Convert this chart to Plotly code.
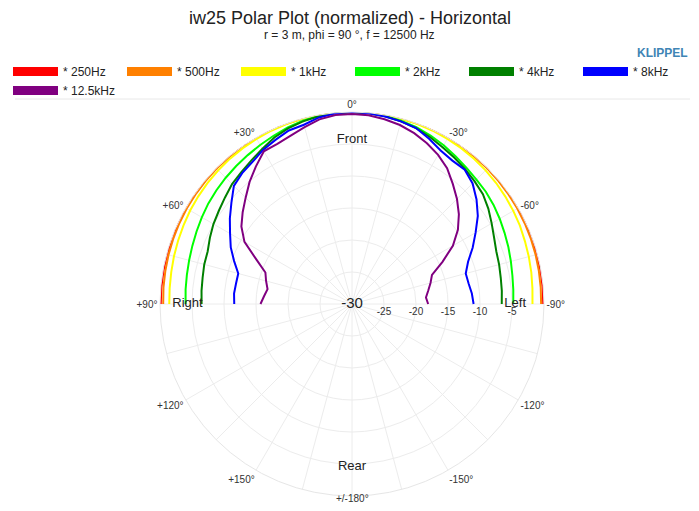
import plotly.graph_objects as go

# ---------------- data ----------------
ANGLES = [-90, -85, -80, -75, -70, -65, -60, -55, -50, -45, -40, -35, -30, -25, -20, -15, -10, -5,
          0, 5, 10, 15, 20, 25, 30, 35, 40, 45, 50, 55, 60, 65, 70, 75, 80, 85, 90]

SERIES_NAMES = ["* 250Hz", "* 500Hz", "* 1kHz", "* 2kHz", "* 4kHz", "* 8kHz", "* 12.5kHz"]
SERIES_COLORS = ["#ff0000", "#ff8000", "#ffff00", "#00ff00", "#008000", "#0000ff", "#800080"]

SPL_250 = [-0.12, -0.1, -0.09, -0.08, -0.06, -0.05, -0.04, -0.03, -0.02, -0.02, -0.01, -0.01, 0, 0, 0, 0, 0, 0,
           0, 0, 0, 0, 0, 0, 0, -0.01, -0.01, -0.02, -0.02, -0.03, -0.04, -0.05, -0.06, -0.08, -0.09, -0.1, -0.12]
SPL_500 = [-0.45, -0.4, -0.35, -0.3, -0.25, -0.21, -0.18, -0.15, -0.12, -0.09, -0.07, -0.05, -0.04, -0.03, -0.02, -0.01, 0, 0,
           0, 0, 0, -0.01, -0.02, -0.03, -0.04, -0.05, -0.07, -0.09, -0.12, -0.15, -0.18, -0.22, -0.27, -0.32, -0.38, -0.43, -0.5]
SPL_1k = [-1.8, -1.7, -1.55, -1.4, -1.25, -1.05, -0.9, -0.75, -0.6, -0.48, -0.36, -0.27, -0.2, -0.13, -0.08, -0.04, -0.02, 0,
          0, 0, -0.02, -0.04, -0.08, -0.13, -0.2, -0.27, -0.35, -0.45, -0.55, -0.68, -0.8, -0.95, -1.08, -1.2, -1.32, -1.4, -1.45]
SPL_2k = [-4.8, -4.7, -4.55, -4.3, -4.0, -3.7, -3.35, -3.0, -2.7, -2.5, -2.2, -1.8, -1.35, -0.95, -0.6, -0.35, -0.15, -0.05,
          0, -0.05, -0.15, -0.35, -0.65, -1.0, -1.3, -1.6, -1.85, -2.1, -2.35, -2.6, -2.9, -3.2, -3.45, -3.65, -3.8, -3.9, -4.0]
SPL_4k = [-6.6, -6.5, -6.4, -6.2, -6.0, -5.5, -4.8, -4.0, -3.3, -2.9, -2.5, -2.1, -1.7, -1.2, -0.75, -0.45, -0.2, -0.1,
          0, -0.1, -0.2, -0.45, -0.8, -1.3, -2.0, -2.6, -3.1, -3.5, -4.1, -4.6, -5.0, -5.5, -6.0, -6.1, -6.3, -6.4, -6.5]
SPL_8k = [-11.0, -11.2, -11.5, -11.6, -10.7, -9.2, -7.7, -6.0, -4.6, -3.35, -2.6, -2.65, -2.3, -1.5, -0.75, -0.45, -0.25, -0.1,
          0, -0.1, -0.4, -1.0, -1.15, -1.7, -2.2, -2.9, -3.3, -3.9, -5.4, -6.7, -8.0, -9.1, -10.4, -11.6, -11.6, -11.5, -11.6]
SPL_12k5 = [-18.1, -18.4, -17.9, -17.3, -16.7, -14.4, -11.8, -9.8, -8.2, -6.8, -5.5, -4.1, -3.1, -2.3, -1.6, -1.05, -0.7, -0.4,
            -0.3, -0.35, -0.7, -1.4, -2.0, -2.4, -2.45, -3.8, -5.1, -6.5, -7.7, -8.9, -10.6, -13.5, -15.6, -16.1, -16.6, -16.2, -15.7]
SERIES_VALUES = [SPL_250, SPL_500, SPL_1k, SPL_2k, SPL_4k, SPL_8k, SPL_12k5]

RADIAL_RANGE = [-30, 0]
RADIAL_TICKS = [-25, -20, -15, -10, -5]
ANGLE_TICKS = list(range(0, 360, 15))
ANGLE_LABELS = {0: "0°", 30: "+30°", 60: "+60°", 90: "+90°", 120: "+120°", 150: "+150°",
                210: "-150°", 240: "-120°", 270: "-90°", 300: "-60°", 330: "-30°"}
REAR_LABEL = "+/-180°"
DIRECTION_LABELS = ["Front", "Right", "Rear", "Left"]
DIRECTION_ANGLES = [0, 90, 180, -90]
DIRECTION_R = [-4.4, -4.3, -4.5, -4.5]

# ---------------- figure ----------------
FONT = "Liberation Sans, Arial, sans-serif"
fig = go.Figure()

for name, color, vals in zip(SERIES_NAMES, SERIES_COLORS, SERIES_VALUES):
    fig.add_trace(go.Scatterpolar(r=vals, theta=ANGLES, mode="lines", name=name,
                                  line=dict(color=color, width=2), showlegend=False,
                                  hoverinfo="skip"))
# legend swatches (thick)
for name, color in zip(SERIES_NAMES, SERIES_COLORS):
    fig.add_trace(go.Scatterpolar(r=[None], theta=[None], mode="lines", name=name,
                                  line=dict(color=color, width=9), showlegend=True))

fig.add_trace(go.Scatterpolar(r=DIRECTION_R, theta=DIRECTION_ANGLES, mode="text",
                              text=DIRECTION_LABELS, textfont=dict(size=13, color="#222", family=FONT),
                              showlegend=False, hoverinfo="skip"))
fig.add_trace(go.Scatterpolar(r=[RADIAL_RANGE[0]], theta=[0], mode="text", text=[str(RADIAL_RANGE[0])],
                              textfont=dict(size=15, color="#222", family=FONT),
                              showlegend=False, hoverinfo="skip"))

# page has an 8px body margin -> figure is 683x495 inside a 699x511 window
W, H = 683, 495
cx, cy, R = 344, 296, 192


def py(y):
    return 1 - y / H


fig.update_layout(
    width=W, height=H,
    margin=dict(l=0, r=0, t=0, b=0),
    paper_bgcolor="white", plot_bgcolor="white",
    font=dict(family=FONT, color="#222"),
    polar=dict(
        domain=dict(x=[(cx - R) / W, (cx + R) / W], y=[py(cy + R), py(cy - R)]),
        bgcolor="white",
        angularaxis=dict(rotation=90, direction="counterclockwise",
                         tickmode="array", tickvals=ANGLE_TICKS,
                         ticktext=[ANGLE_LABELS.get(a, "") for a in ANGLE_TICKS],
                         tickfont=dict(size=10, color="#333"),
                         ticks="", showline=True, linecolor="#e6e6e6", linewidth=1,
                         gridcolor="#ececec", gridwidth=1),
        radialaxis=dict(range=RADIAL_RANGE, tickmode="array", tickvals=RADIAL_TICKS,
                        ticktext=[str(v) for v in RADIAL_TICKS], angle=0, side="clockwise",
                        tickfont=dict(size=10, color="#333"), ticks="", showline=False,
                        gridcolor="#ececec", gridwidth=1, tickangle=0),
    ),
    legend=dict(orientation="h", x=0.001, y=py(49), xanchor="left", yanchor="top",
                font=dict(size=12, color="#222"), entrywidth=54, entrywidthmode="pixels",
                itemwidth=45, tracegroupgap=0, bgcolor="rgba(0,0,0,0)"),
    annotations=[
        dict(text="iw25 Polar Plot (normalized) - Horizontal", x=0.5, y=py(10), xref="paper", yref="paper",
             yanchor="middle", showarrow=False, font=dict(size=18, color="#222")),
        dict(text="r = 3 m, phi = 90 °, f = 12500 Hz", x=0.5, y=py(27), xref="paper", yref="paper",
             yanchor="middle", showarrow=False, font=dict(size=12, color="#222")),
        dict(text="<b>KLIPPEL</b>", x=682 / W, y=py(45), xref="paper", yref="paper",
             xanchor="right", yanchor="middle", showarrow=False, font=dict(size=12, color="#3f85b5")),
        dict(text=REAR_LABEL, x=cx / W, y=py(490), xref="paper", yref="paper",
             xanchor="center", yanchor="middle", showarrow=False, font=dict(size=10, color="#333")),
    ],
    shapes=[dict(type="line", xref="paper", yref="paper", x0=7 / W, x1=682 / W,
                 y0=py(91), y1=py(91), line=dict(color="#e8e8e8", width=1))],
)

fig.write_html("out.html")
